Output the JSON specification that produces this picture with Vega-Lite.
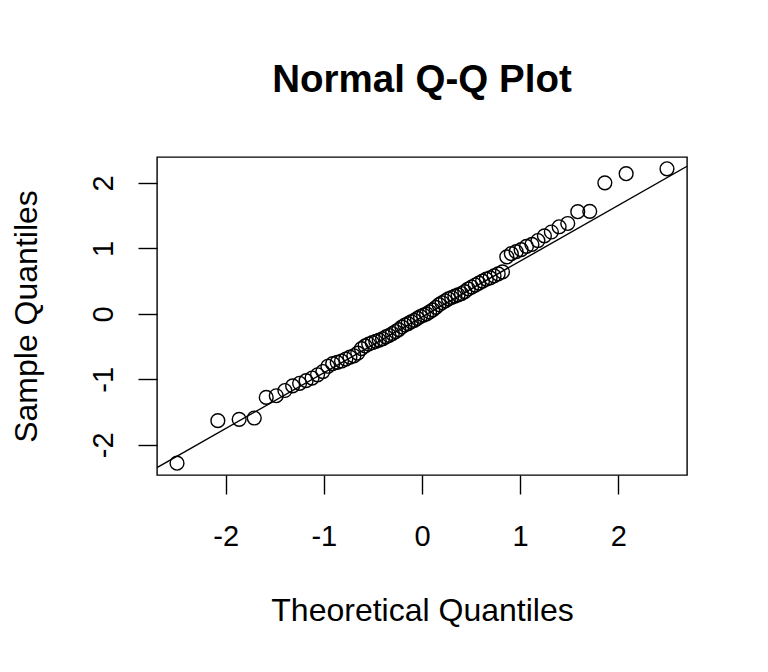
{
  "$schema": "https://vega.github.io/schema/vega-lite/v6.json",
  "autosize": "none",
  "width": 530,
  "height": 318,
  "padding": {"left": 157, "top": 157, "right": 81, "bottom": 197},
  "background": "white",
  "title": {"text": "Normal Q-Q Plot", "font": "Liberation Sans", "fontSize": 38.5, "fontWeight": "bold", "color": "black", "anchor": "middle", "offset": 57},
  "config": {
    "view": {"stroke": "black", "strokeWidth": 1.4},
    "axis": {"grid": false, "domain": false, "ticks": true, "tickColor": "black", "tickWidth": 1.4, "tickSize": 19,
      "labelFont": "Liberation Sans", "labelFontSize": 29, "labelColor": "black",
      "titleFont": "Liberation Sans", "titleFontSize": 32, "titleFontWeight": "normal", "titleColor": "black"}
  },
  "datasets": {
    "pts": [
      {"x": -2.496, "y": -2.28}, {"x": -2.080, "y": -1.63}, {"x": -1.863, "y": -1.61}, {"x": -1.709, "y": -1.59},
      {"x": -1.587, "y": -1.275}, {"x": -1.485, "y": -1.25}, {"x": -1.397, "y": -1.17}, {"x": -1.318, "y": -1.10},
      {"x": -1.247, "y": -1.06}, {"x": -1.181, "y": -1.02}, {"x": -1.120, "y": -0.98}, {"x": -1.064, "y": -0.93},
      {"x": -1.010, "y": -0.88}, {"x": -0.959, "y": -0.80}, {"x": -0.910, "y": -0.76}, {"x": -0.864, "y": -0.74},
      {"x": -0.820, "y": -0.72}, {"x": -0.776, "y": -0.69}, {"x": -0.734, "y": -0.66}, {"x": -0.694, "y": -0.64},
      {"x": -0.655, "y": -0.60}, {"x": -0.617, "y": -0.53}, {"x": -0.579, "y": -0.49}, {"x": -0.543, "y": -0.46},
      {"x": -0.506, "y": -0.44}, {"x": -0.471, "y": -0.42}, {"x": -0.436, "y": -0.40}, {"x": -0.402, "y": -0.38},
      {"x": -0.368, "y": -0.35}, {"x": -0.335, "y": -0.33}, {"x": -0.302, "y": -0.30}, {"x": -0.269, "y": -0.27},
      {"x": -0.237, "y": -0.24}, {"x": -0.205, "y": -0.20}, {"x": -0.174, "y": -0.17}, {"x": -0.142, "y": -0.15},
      {"x": -0.110, "y": -0.12}, {"x": -0.078, "y": -0.10}, {"x": -0.047, "y": -0.07}, {"x": -0.016, "y": -0.04},
      {"x": 0.016, "y": -0.02}, {"x": 0.047, "y": 0.00}, {"x": 0.078, "y": 0.03}, {"x": 0.110, "y": 0.06},
      {"x": 0.142, "y": 0.10}, {"x": 0.174, "y": 0.14}, {"x": 0.205, "y": 0.17}, {"x": 0.237, "y": 0.20},
      {"x": 0.269, "y": 0.23}, {"x": 0.302, "y": 0.25}, {"x": 0.335, "y": 0.27}, {"x": 0.368, "y": 0.29},
      {"x": 0.402, "y": 0.31}, {"x": 0.436, "y": 0.34}, {"x": 0.471, "y": 0.38}, {"x": 0.506, "y": 0.41},
      {"x": 0.543, "y": 0.44}, {"x": 0.579, "y": 0.47}, {"x": 0.617, "y": 0.50}, {"x": 0.655, "y": 0.53},
      {"x": 0.694, "y": 0.55}, {"x": 0.734, "y": 0.58}, {"x": 0.776, "y": 0.61}, {"x": 0.820, "y": 0.64},
      {"x": 0.864, "y": 0.87}, {"x": 0.910, "y": 0.92}, {"x": 0.959, "y": 0.95}, {"x": 1.010, "y": 0.98},
      {"x": 1.064, "y": 1.03}, {"x": 1.120, "y": 1.06}, {"x": 1.181, "y": 1.12}, {"x": 1.247, "y": 1.19},
      {"x": 1.318, "y": 1.25}, {"x": 1.397, "y": 1.33}, {"x": 1.485, "y": 1.38}, {"x": 1.587, "y": 1.56},
      {"x": 1.709, "y": 1.565}, {"x": 1.863, "y": 2.00}, {"x": 2.080, "y": 2.14}, {"x": 2.496, "y": 2.215}
    ],
    "qqline": [{"x": -2.70, "y": -2.347, "x2": 2.70, "y2": 2.253}]
  },
  "layer": [
    {
      "data": {"name": "qqline"},
      "mark": {"type": "rule", "color": "black", "strokeWidth": 1.4, "clip": true},
      "encoding": {
        "x": {"field": "x", "type": "quantitative", "scale": {"domain": [-2.70, 2.70], "nice": false, "zero": false},
          "axis": {"values": [-2, -1, 0, 1, 2], "labelExpr": "datum.value + ''", "labelPadding": 28, "title": "Theoretical Quantiles", "titlePadding": 44}},
        "y": {"field": "y", "type": "quantitative", "scale": {"domain": [-2.46, 2.395], "nice": false, "zero": false},
          "axis": {"values": [-2, -1, 0, 1, 2], "labelExpr": "datum.value + ''", "labelAngle": -90, "labelAlign": "center", "labelBaseline": "alphabetic", "labelPadding": 26, "title": "Sample Quantiles", "titlePadding": 46}},
        "x2": {"field": "x2"},
        "y2": {"field": "y2"}
      }
    },
    {
      "data": {"name": "pts"},
      "mark": {"type": "point", "shape": "circle", "filled": false, "stroke": "black", "strokeWidth": 1.4, "size": 190, "opacity": 1},
      "encoding": {
        "x": {"field": "x", "type": "quantitative"},
        "y": {"field": "y", "type": "quantitative"}
      }
    }
  ]
}
